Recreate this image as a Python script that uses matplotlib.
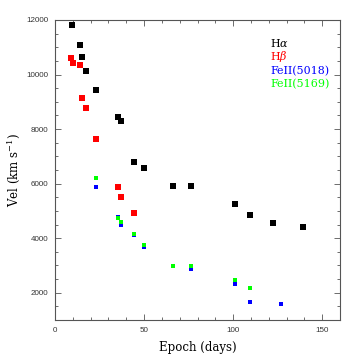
import numpy as np
import matplotlib
matplotlib.use('Agg')
import matplotlib.pyplot as plt
import matplotlib.ticker as ticker

# 速度随时间演化数据
ha_days = [9.8, 14.0, 15.2, 17.2, 23.2, 35.2, 37.1, 44.2, 50.2, 66.1, 76.2, 101.3, 109.2, 122.3, 139.3]
ha_vel = [11800, 11080, 10650, 10130, 9420, 8450, 8290, 6800, 6580, 5900, 5900, 5240, 4840, 4560, 4410]

hb_days = [9.2, 10.1, 14.0, 15.2, 17.2, 23.2, 35.2, 37.1, 44.2]
hb_vel = [10620, 10430, 10350, 9130, 8780, 7640, 5890, 5500, 4910]

fe5018_days = [23.2, 35.2, 37.3, 44.2, 50.2, 76.2, 101.1, 109.2, 127.1]
fe5018_vel = [5860, 4780, 4480, 4100, 3670, 2880, 2320, 1660, 1590]

fe5169_days = [23.0, 35.2, 37.3, 44.2, 50.2, 66.1, 76.2, 101.1, 109.2]
fe5169_vel = [6190, 4740, 4590, 4140, 3740, 2990, 2990, 2470, 2170]

labels = [r'H$\alpha$', r'H$\beta$', 'FeII(5018)', 'FeII(5169)']
colors = ['black', '#ff0000', '#0000ff', '#00ff00']

plt.rcParams['mathtext.fontset'] = 'dejavuserif'

fig = plt.figure(figsize=(3.59, 3.59), dpi=100)
ax = fig.add_axes([0.1532, 0.1086, 0.7939, 0.8357])

ax.scatter(ha_days, ha_vel, marker='s', s=15, color=colors[0], linewidths=0, zorder=3)
ax.scatter(hb_days, hb_vel, marker='s', s=15, color=colors[1], linewidths=0, zorder=3)
ax.scatter(fe5018_days, fe5018_vel, marker='s', s=9, color=colors[2], linewidths=0, zorder=3)
ax.scatter(fe5169_days, fe5169_vel, marker='s', s=9, color=colors[3], linewidths=0, zorder=4)

ax.set_xlim(0, 160)
ax.set_ylim(1000, 12000)

ax.xaxis.set_major_locator(ticker.MultipleLocator(50))
ax.xaxis.set_minor_locator(ticker.MultipleLocator(10))
ax.yaxis.set_major_locator(ticker.FixedLocator([2000, 4000, 6000, 8000, 10000, 12000]))
ax.yaxis.set_minor_locator(ticker.MultipleLocator(500))

ax.tick_params(which='both', direction='in', top=True, right=True, color='#555555', width=0.6)
ax.tick_params(which='major', length=4.5, labelsize=5.8, labelcolor='#333333', pad=5)
ax.tick_params(which='minor', length=2.2)
for lab in ax.get_xticklabels() + ax.get_yticklabels():
    lab.set_family('Liberation Sans')
for sp in ax.spines.values():
    sp.set_color('#555555')
    sp.set_linewidth(0.8)

ax.set_xlabel('Epoch (days)', family='DejaVu Serif', fontsize=8.5, labelpad=5)
ax.set_ylabel(r'Vel (km s$^{-1}$)', family='DejaVu Serif', fontsize=8.5, labelpad=3)

# 图例文字
ys = [0.922, 0.878, 0.831, 0.786]
for lab, c, y in zip(labels, colors, ys):
    ax.text(0.754, y, lab, color=c, transform=ax.transAxes, family='DejaVu Serif',
            fontsize=7.9, va='center', ha='left')

fig.savefig('out.png', dpi=100)
